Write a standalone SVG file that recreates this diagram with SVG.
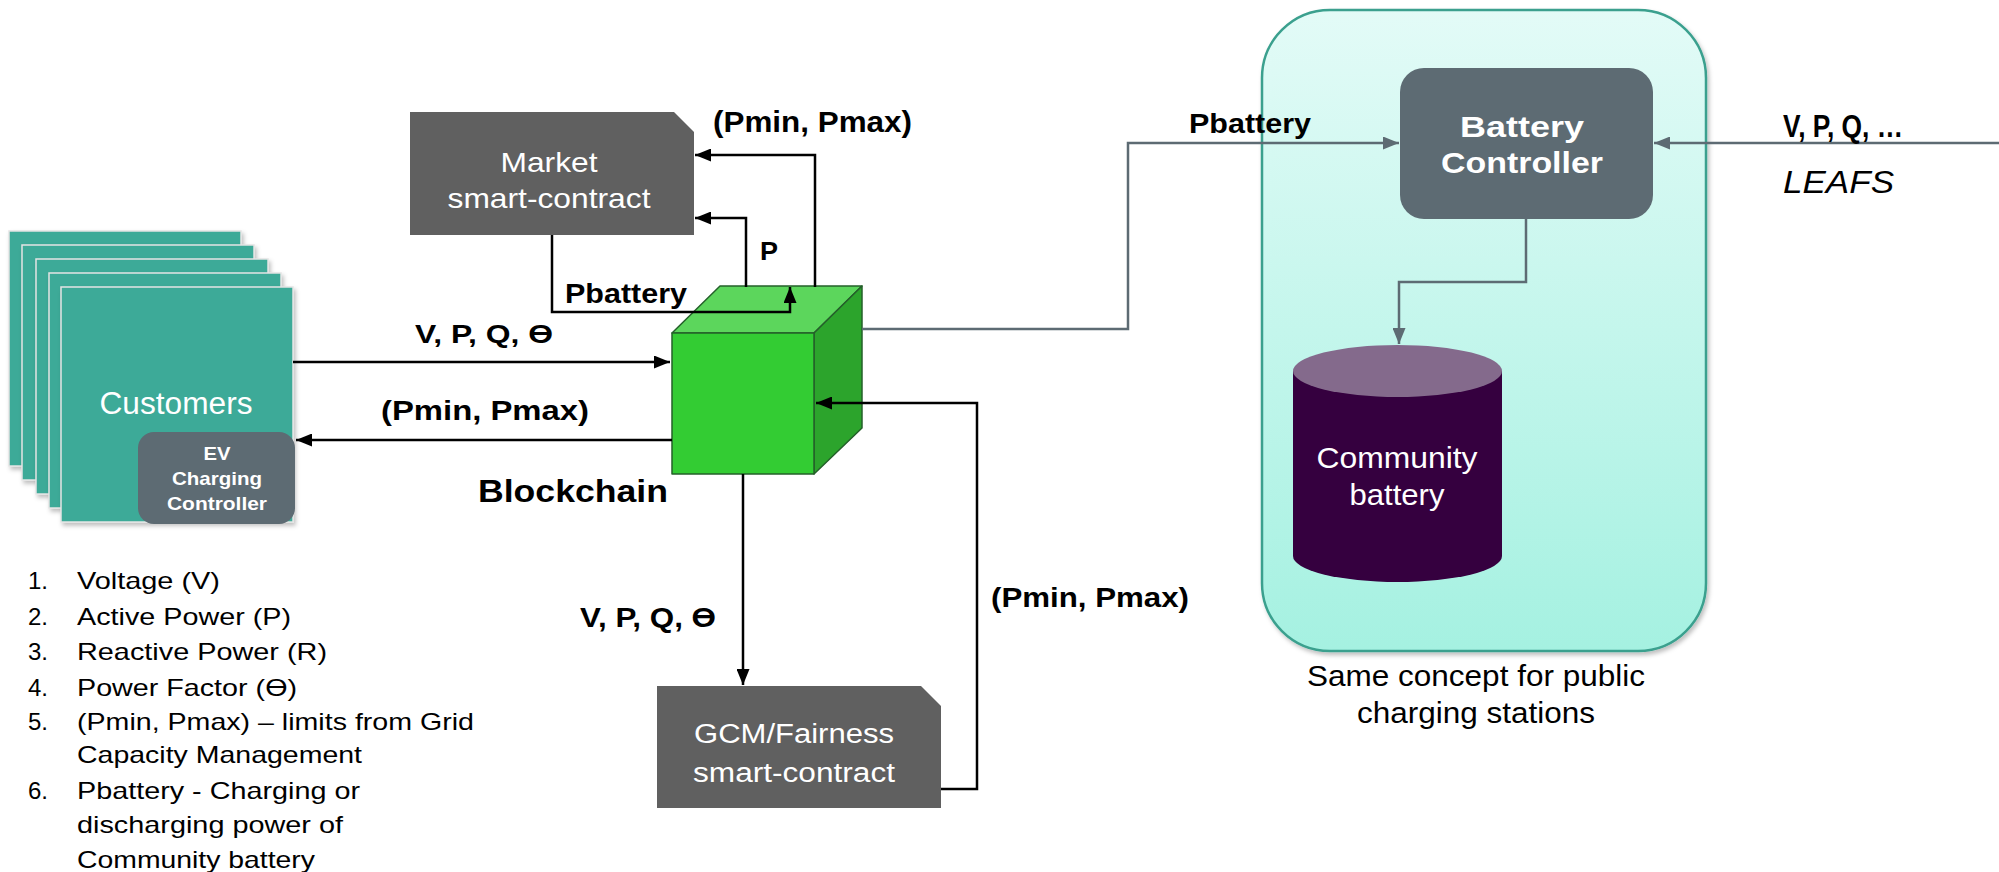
<svg xmlns="http://www.w3.org/2000/svg" width="1999" height="872" viewBox="0 0 1999 872">
  <defs>
    <style>
      .bold { font-family: "Liberation Sans", Arial, sans-serif; font-weight: bold; fill: #000; }
      .reg { font-family: "Liberation Sans", Arial, sans-serif; fill: #000; }
      .white { fill: #fff; }
      .wire { fill: none; stroke: #000; stroke-width: 2.5; }
      .wire-g { fill: none; stroke: #5d6b73; stroke-width: 2.5; }
      .card { fill: #3eaa98; stroke: #e4e4e4; stroke-width: 1.5; }
      .contract { fill: #606060; }
      .ctrl { fill: #5d6b73; }
      .legend { font-family: "Liberation Sans", Arial, sans-serif; font-size: 24px; fill: #000; }
    </style>
    <marker id="ah" markerUnits="userSpaceOnUse" viewBox="0 0 16 13" refX="16" refY="6.5" markerWidth="16" markerHeight="13" orient="auto">
      <path d="M0,0 L16,6.5 L0,13 Z" fill="#000"/>
    </marker>
    <marker id="ahg" markerUnits="userSpaceOnUse" viewBox="0 0 16 13" refX="16" refY="6.5" markerWidth="16" markerHeight="13" orient="auto">
      <path d="M0,0 L16,6.5 L0,13 Z" fill="#5d6b73"/>
    </marker>
    <linearGradient id="siteFill" x1="0" y1="0" x2="0" y2="1">
      <stop offset="0" stop-color="#e3fbf7"/>
      <stop offset="1" stop-color="#a5f1e1"/>
    </linearGradient>
    <filter id="shadow" x="-10%" y="-10%" width="130%" height="130%">
      <feDropShadow dx="2" dy="3" stdDeviation="2" flood-color="#000" flood-opacity="0.25"/>
    </filter>
  </defs>

  <rect width="1999" height="872" fill="#fff"/>

  <!-- community site container -->
  <g id="site">
    <rect x="1262" y="10" width="444" height="641" rx="68" fill="url(#siteFill)" stroke="#3aa08e" stroke-width="2.5" filter="url(#shadow)"/>
    <text class="reg" x="1476" y="686" font-size="29" text-anchor="middle" textLength="338" lengthAdjust="spacingAndGlyphs">Same concept for public</text>
    <text class="reg" x="1476" y="723" font-size="29" text-anchor="middle" textLength="238" lengthAdjust="spacingAndGlyphs">charging stations</text>
  </g>

  <!-- stack of customer cards -->
  <g id="customers">
    <rect class="card" x="9" y="231" width="232" height="235" filter="url(#shadow)"/>
    <rect class="card" x="22" y="245" width="232" height="235" filter="url(#shadow)"/>
    <rect class="card" x="36" y="259" width="232" height="235" filter="url(#shadow)"/>
    <rect class="card" x="49" y="273" width="232" height="235" filter="url(#shadow)"/>
    <rect class="card" x="61" y="287" width="232" height="235" filter="url(#shadow)"/>
    <text class="reg white" x="176" y="414" font-size="31" text-anchor="middle" textLength="153" lengthAdjust="spacingAndGlyphs">Customers</text>
  </g>

  <g id="ev-controller">
    <rect class="ctrl" x="138" y="432" width="157" height="92" rx="16"/>
    <text class="bold white" x="217" y="460" font-size="19" text-anchor="middle" textLength="27" lengthAdjust="spacingAndGlyphs">EV</text>
    <text class="bold white" x="217" y="485" font-size="19" text-anchor="middle" textLength="90" lengthAdjust="spacingAndGlyphs">Charging</text>
    <text class="bold white" x="217" y="510" font-size="19" text-anchor="middle" textLength="100" lengthAdjust="spacingAndGlyphs">Controller</text>
  </g>

  <!-- blockchain cube -->
  <g id="blockchain" stroke="#24602a" stroke-width="1.5" stroke-linejoin="round">
    <polygon points="672,333 720,286 862,286 814,333" fill="#5cd65c"/>
    <polygon points="814,333 862,286 862,428 814,474" fill="#2ca42c"/>
    <rect x="672" y="333" width="142" height="141" fill="#33cc33"/>
    <text class="bold" x="478" y="502" font-size="31" stroke="none" textLength="190" lengthAdjust="spacingAndGlyphs">Blockchain</text>
  </g>

  <g id="market">
    <path class="contract" d="M410,112 H674 L694,132 V235 H410 Z"/>
    <text class="reg white" x="549" y="172" font-size="28" text-anchor="middle" textLength="97" lengthAdjust="spacingAndGlyphs">Market</text>
    <text class="reg white" x="549" y="208" font-size="28" text-anchor="middle" textLength="203" lengthAdjust="spacingAndGlyphs">smart-contract</text>
  </g>

  <g id="gcm">
    <path class="contract" d="M657,686 H921 L941,706 V808 H657 Z"/>
    <text class="reg white" x="794" y="743" font-size="27" text-anchor="middle" textLength="200" lengthAdjust="spacingAndGlyphs">GCM/Fairness</text>
    <text class="reg white" x="794" y="782" font-size="27" text-anchor="middle" textLength="202" lengthAdjust="spacingAndGlyphs">smart-contract</text>
  </g>

  <g id="battery-controller">
    <rect class="ctrl" x="1400" y="68" width="253" height="151" rx="24"/>
    <text class="bold white" x="1522" y="137" font-size="30" text-anchor="middle" textLength="124" lengthAdjust="spacingAndGlyphs">Battery</text>
    <text class="bold white" x="1522" y="173" font-size="30" text-anchor="middle" textLength="162" lengthAdjust="spacingAndGlyphs">Controller</text>
  </g>

  <g id="community-battery">
    <path d="M1293,371 V556 A104.5,26 0 0 0 1502,556 V371 Z" fill="#35003f"/>
    <ellipse cx="1397.5" cy="371" rx="104.5" ry="26" fill="#846a8c"/>
    <text class="reg white" x="1397" y="468" font-size="30" text-anchor="middle" textLength="161" lengthAdjust="spacingAndGlyphs">Community</text>
    <text class="reg white" x="1397" y="505" font-size="30" text-anchor="middle" textLength="95" lengthAdjust="spacingAndGlyphs">battery</text>
  </g>

  <!-- connectors -->
  <g id="connectors">
    <path class="wire" d="M293,362 H670" marker-end="url(#ah)"/>
    <path class="wire" d="M672,440 H296" marker-end="url(#ah)"/>
    <path class="wire" d="M815,287 V155 H695" marker-end="url(#ah)"/>
    <path class="wire" d="M746,287 V218 H695" marker-end="url(#ah)"/>
    <path class="wire" d="M552,235 V312 H790 V287" marker-end="url(#ah)"/>
    <path class="wire" d="M743,474 V685" marker-end="url(#ah)"/>
    <path class="wire" d="M941,789 H977 V403 H816" marker-end="url(#ah)"/>
    <path class="wire-g" d="M862,329 H1128 V143 H1399" marker-end="url(#ahg)"/>
    <path class="wire-g" d="M1999,143 H1654" marker-end="url(#ahg)"/>
    <path class="wire-g" d="M1526,219 V282 H1399 V344" marker-end="url(#ahg)"/>

    <text class="bold" x="713" y="132" font-size="30" textLength="199" lengthAdjust="spacingAndGlyphs">(Pmin, Pmax)</text>
    <text class="bold" x="760" y="260" font-size="25" textLength="18" lengthAdjust="spacingAndGlyphs">P</text>
    <text class="bold" x="565" y="303" font-size="28" textLength="122" lengthAdjust="spacingAndGlyphs">Pbattery</text>
    <text class="bold" x="415" y="343" font-size="25" textLength="138" lengthAdjust="spacingAndGlyphs">V, P, Q, ϴ</text>
    <text class="bold" x="381" y="420" font-size="28" textLength="208" lengthAdjust="spacingAndGlyphs">(Pmin, Pmax)</text>
    <text class="bold" x="580" y="627" font-size="27" textLength="136" lengthAdjust="spacingAndGlyphs">V, P, Q, ϴ</text>
    <text class="bold" x="991" y="607" font-size="28" textLength="198" lengthAdjust="spacingAndGlyphs">(Pmin, Pmax)</text>
    <text class="bold" x="1189" y="133" font-size="28" textLength="122" lengthAdjust="spacingAndGlyphs">Pbattery</text>
    <text class="bold" x="1783" y="137" font-size="31" textLength="120" lengthAdjust="spacingAndGlyphs">V, P, Q, …</text>
    <text class="reg" x="1783" y="193" font-size="32" font-style="italic" textLength="111" lengthAdjust="spacingAndGlyphs">LEAFS</text>
  </g>

  <!-- numbered legend -->
  <g id="legend" class="legend">
    <text x="28" y="589">1.</text>
    <text x="77" y="589" textLength="143" lengthAdjust="spacingAndGlyphs">Voltage (V)</text>
    <text x="28" y="625">2.</text>
    <text x="77" y="625" textLength="214" lengthAdjust="spacingAndGlyphs">Active Power (P)</text>
    <text x="28" y="660">3.</text>
    <text x="77" y="660" textLength="250" lengthAdjust="spacingAndGlyphs">Reactive Power (R)</text>
    <text x="28" y="696">4.</text>
    <text x="77" y="696" textLength="220" lengthAdjust="spacingAndGlyphs">Power Factor (ϴ)</text>
    <text x="28" y="730">5.</text>
    <text x="77" y="730" textLength="397" lengthAdjust="spacingAndGlyphs">(Pmin, Pmax) – limits from Grid</text>
    <text x="77" y="763" textLength="285" lengthAdjust="spacingAndGlyphs">Capacity Management</text>
    <text x="28" y="799">6.</text>
    <text x="77" y="799" textLength="283" lengthAdjust="spacingAndGlyphs">Pbattery - Charging or</text>
    <text x="77" y="833" textLength="266" lengthAdjust="spacingAndGlyphs">discharging power of</text>
    <text x="77" y="868" textLength="238" lengthAdjust="spacingAndGlyphs">Community battery</text>
  </g>
</svg>
